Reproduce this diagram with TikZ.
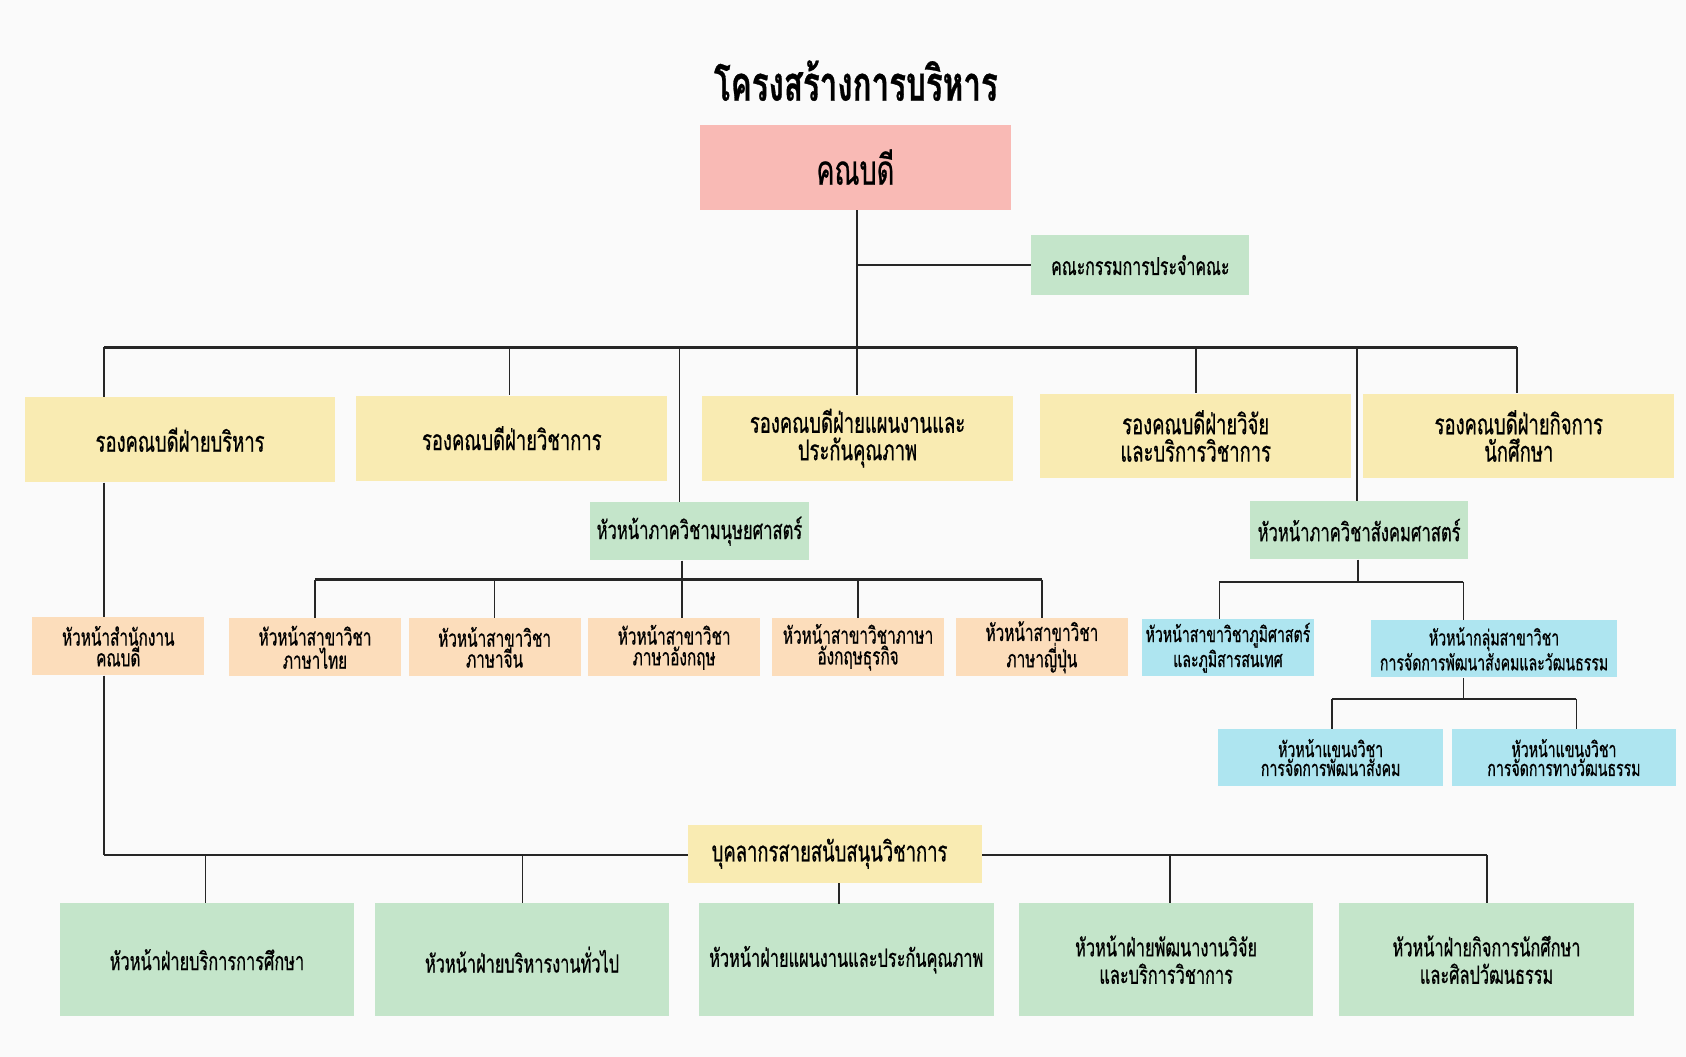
\documentclass[tikz,border=0pt]{standalone}
\usepackage{fontspec}
\newfontfamily\thaifont[Script=Thai,FakeStretch=0.65,FakeBold=0.6]{Loma}
\definecolor{bgwhite}{RGB}{250,250,250}
\definecolor{deanpink}{RGB}{249,186,181}
\definecolor{viceyellow}{RGB}{249,235,178}
\definecolor{headgreen}{RGB}{196,229,202}
\definecolor{unitorange}{RGB}{252,221,187}
\definecolor{unitblue}{RGB}{174,229,240}
\tikzset{
	box/.style={inner sep=0pt, align=center},
	link/.style={line width=0.3mm, black!85},
	bus/.style={line width=0.45mm, black!85},
}

\begin{document}
\begin{tikzpicture}[x=0.2mm,y=-0.2mm]
		%%%%% START %%%%%
		
		\fill[bgwhite] (0,0) rectangle (1568,983);
		
		\node[font=\thaifont\bfseries\fontsize{25.5}{28}\selectfont] (title) at (796,75) {โครงสร้างการบริหาร};
		
		\node[box, fill=deanpink, minimum width=57.8mm, minimum height=15.8mm, font=\thaifont\fontsize{22}{24}\selectfont] (dean) at (795.5,155.5) {คณบดี};
		\node[box, fill=headgreen, minimum width=40.6mm, minimum height=11mm, font=\thaifont\fontsize{13}{14}\selectfont] (comm) at (1060.5,246.5) {คณะกรรมการประจำคณะ};
		
		\tikzset{vice/.style={box, fill=viceyellow, minimum width=57.8mm, minimum height=15.8mm, font=\thaifont\fontsize{15}{14.5}\selectfont}}
		\node[vice] (vice1) at (167.5,409) {รองคณบดีฝ่ายบริหาร};
		\node[vice] (vice2) at (476,407.5) {รองคณบดีฝ่ายวิชาการ};
		\node[vice] (vice3) at (797.5,407.5) {รองคณบดีฝ่ายแผนงานและ\\ประกันคุณภาพ};
		\node[vice] (vice4) at (1112,405.5) {รองคณบดีฝ่ายวิจัย\\และบริการวิชาการ};
		\node[vice] (vice5) at (1412.5,405.5) {รองคณบดีฝ่ายกิจการ\\นักศึกษา};
		
		\tikzset{dept/.style={box, fill=headgreen, minimum width=40.6mm, minimum height=10.8mm, font=\thaifont\fontsize{13.5}{15}\selectfont}}
		\node[dept] (hum) at (650.5,494) {หัวหน้าภาควิชามนุษยศาสตร์};
		\node[dept] (soc) at (1264,493) {หัวหน้าภาควิชาสังคมศาสตร์};
		
		\tikzset{major/.style={box, fill=unitorange, minimum width=32mm, minimum height=10.8mm, font=\thaifont\fontsize{12.5}{11}\selectfont}}
		\node[major] (office) at (110,601) {หัวหน้าสำนักงาน\\คณบดี};
		\node[major] (thai) at (293,602) {หัวหน้าสาขาวิชา\\ภาษาไทย};
		\node[major] (chinese) at (460,602) {หัวหน้าสาขาวิชา\\ภาษาจีน};
		\node[major] (english) at (627,602) {หัวหน้าสาขาวิชา\\ภาษาอังกฤษ};
		\node[major] (busenglish) at (798,602) {หัวหน้าสาขาวิชาภาษา\\อังกฤษธุรกิจ};
		\node[major] (japanese) at (969,602) {หัวหน้าสาขาวิชา\\ภาษาญี่ปุ่น};
		
		\tikzset{branch/.style={box, fill=unitblue, minimum height=10.6mm, font=\thaifont\fontsize{11.5}{10}\selectfont}}
		\node[branch, minimum width=32mm] (geo) at (1142,602.5) {หัวหน้าสาขาวิชาภูมิศาสตร์\\และภูมิสารสนเทศ};
		\node[branch, minimum width=45.8mm] (group) at (1389.5,603.5) {หัวหน้ากลุ่มสาขาวิชา\\การจัดการพัฒนาสังคมและวัฒนธรรม};
		\node[branch, minimum width=41.8mm] (social) at (1237.5,704.5) {หัวหน้าแขนงวิชา\\การจัดการพัฒนาสังคม};
		\node[branch, minimum width=41.8mm] (culture) at (1454.5,704.5) {หัวหน้าแขนงวิชา\\การจัดการทางวัฒนธรรม};
		
		\node[box, fill=viceyellow, minimum width=54.6mm, minimum height=10.8mm, font=\thaifont\fontsize{15}{16}\selectfont] (support) at (776.5,794) {\hspace*{-2mm}บุคลากรสายสนับสนุนวิชาการ};
		
		\tikzset{staff/.style={box, fill=headgreen, minimum width=54.8mm, minimum height=21mm, font=\thaifont\fontsize{13.3}{14.5}\selectfont}}
		\node[staff] (staff1) at (192.5,892.5) {หัวหน้าฝ่ายบริการการศึกษา};
		\node[staff] (staff2) at (485.5,892.5) {หัวหน้าฝ่ายบริหารงานทั่วไป};
		\node[staff] (staff3) at (787,892.5) {หัวหน้าฝ่ายแผนงานและประกันคุณภาพ};
		\node[staff] (staff4) at (1084.5,892.5) {หัวหน้าฝ่ายพัฒนางานวิจัย\\และบริการวิชาการ};
		\node[staff] (staff5) at (1382.5,892.5) {หัวหน้าฝ่ายกิจการนักศึกษา\\และศิลปวัฒนธรรม};
		
		% top level
		\coordinate (top1) at (97,323);
		\coordinate (top2) at (474,323);
		\coordinate (top3) at (632,323);
		\coordinate (top4) at (797,323);
		\coordinate (top5) at (1112,323);
		\coordinate (top6) at (1262,323);
		\coordinate (top7) at (1411,323);
		\draw[bus] (top1) -- (top7);
		\draw[link] (top4 |- dean.south) -- (top4);
		\draw[bus] (top4 |- comm.west) -- (comm.west);
		\draw[link] (top1) -- (top1 |- vice1.north);
		\draw[link] (top2) -- (top2 |- vice2.north);
		\draw[link] (top3) -- (top3 |- hum.north);
		\draw[link] (top4) -- (top4 |- vice3.north);
		\draw[link] (top5) -- (top5 |- vice4.north);
		\draw[link] (top6) -- (top6 |- soc.north);
		\draw[link] (top7) -- (top7 |- vice5.north);
		
		% humanities
		\coordinate (humbus) at (634,539);
		\draw[link] (humbus |- hum.south) -- (humbus);
		\draw[bus] (thai.north |- humbus) -- (japanese.north |- humbus);
		\foreach \m in {thai,chinese,busenglish,japanese}
			\draw[link] (\m.north |- humbus) -- (\m.north);
		\draw[link] (humbus) -- (humbus |- english.north);
		
		% social sciences
		\coordinate (socbus) at (1263,541);
		\coordinate (geox) at (1134,541);
		\coordinate (groupx) at (1361,541);
		\draw[link] (socbus |- soc.south) -- (socbus);
		\draw[bus] (geox) -- (groupx);
		\draw[link] (geox) -- (geox |- geo.north);
		\draw[link] (groupx) -- (groupx |- group.north);
		\coordinate (groupbus) at (1361,650);
		\coordinate (socialx) at (1239,650);
		\coordinate (culturex) at (1466,650);
		\draw[link] (groupbus |- group.south) -- (groupbus);
		\draw[bus] (socialx) -- (culturex);
		\draw[link] (socialx) -- (socialx |- social.north);
		\draw[link] (culturex) -- (culturex |- culture.north);
		
		% office and support staff
		\coordinate (low) at (97,795);
		\coordinate (lowend) at (1383,795);
		\draw[link] (top1 |- vice1.south) -- (top1 |- office.north);
		\draw[link] (top1 |- office.south) -- (low);
		\draw[bus] (low) -- (support.west |- low);
		\draw[bus] (support.east |- low) -- (lowend);
		\foreach \s/\x in {staff1/191,staff2/486,staff4/1088,staff5/1383}
			\draw[link] (\x,795) -- (\x,840);
		\draw[link] (support.south -| staff3.north) ++(-7,0) -- ++(0,19);
		
		%%%%% END %%%%%
	\end{tikzpicture}
\end{document}
